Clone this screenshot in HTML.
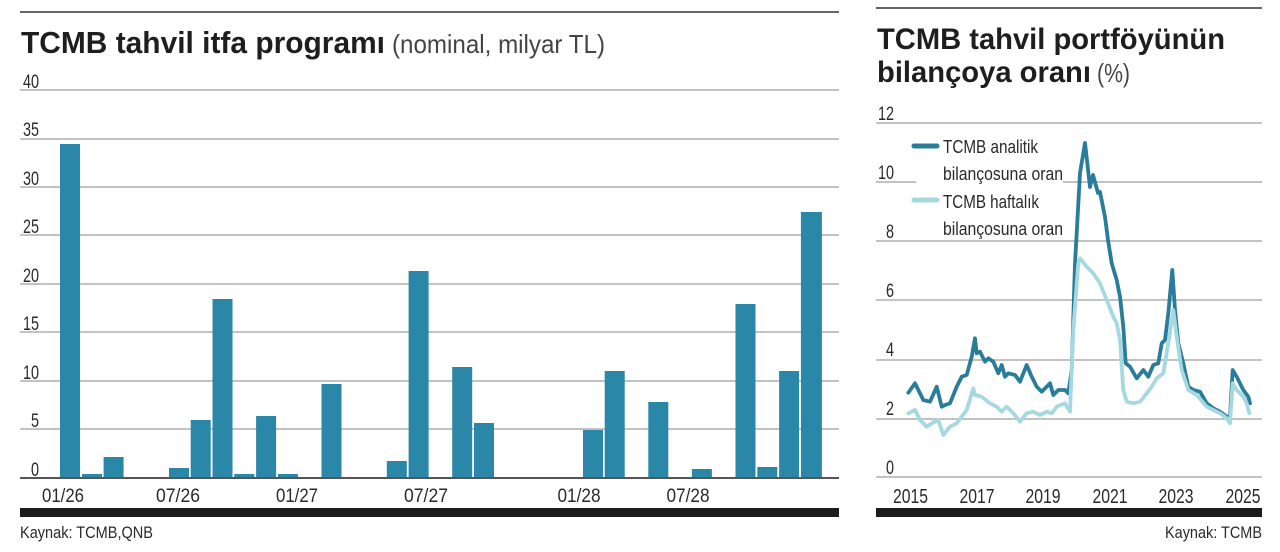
<!DOCTYPE html>
<html><head><meta charset="utf-8"><style>
html,body{margin:0;padding:0;background:#fff;}
svg{display:block;}
text{font-family:"Liberation Sans", "DejaVu Sans", sans-serif;}
</style></head><body>
<svg width="1280" height="552" viewBox="0 0 1280 552" xmlns="http://www.w3.org/2000/svg">
<rect width="1280" height="552" fill="#fff"/>
<!-- LEFT CHART -->
<line x1="20" y1="12" x2="839" y2="12" stroke="#333" stroke-width="1.5"/>
<text x="21" y="53" font-size="31" font-weight="bold" fill="#1e1e1e" textLength="364" lengthAdjust="spacingAndGlyphs">TCMB tahvil itfa programı</text>
<text x="392" y="53" font-size="26" fill="#444" textLength="213" lengthAdjust="spacingAndGlyphs">(nominal, milyar TL)</text>
<g stroke="#adadad" stroke-width="1.6">
<line x1="20" y1="90" x2="839" y2="90"/>
<line x1="20" y1="139" x2="839" y2="139"/>
<line x1="20" y1="187" x2="839" y2="187"/>
<line x1="20" y1="235" x2="839" y2="235"/>
<line x1="20" y1="284" x2="839" y2="284"/>
<line x1="20" y1="332" x2="839" y2="332"/>
<line x1="20" y1="381" x2="839" y2="381"/>
<line x1="20" y1="429" x2="839" y2="429"/>
</g>
<g font-size="19" fill="#2a2a2a" text-anchor="end">
<text x="39" y="88" textLength="16" lengthAdjust="spacingAndGlyphs">40</text>
<text x="39" y="136" textLength="16" lengthAdjust="spacingAndGlyphs">35</text>
<text x="39" y="185" textLength="16" lengthAdjust="spacingAndGlyphs">30</text>
<text x="39" y="233" textLength="16" lengthAdjust="spacingAndGlyphs">25</text>
<text x="39" y="282" textLength="16" lengthAdjust="spacingAndGlyphs">20</text>
<text x="39" y="330" textLength="16" lengthAdjust="spacingAndGlyphs">15</text>
<text x="39" y="379" textLength="16" lengthAdjust="spacingAndGlyphs">10</text>
<text x="39" y="427" textLength="8" lengthAdjust="spacingAndGlyphs">5</text>
<text x="39" y="476" textLength="8" lengthAdjust="spacingAndGlyphs">0</text>
</g>
<g fill="#2b87a7">
<rect x="60" y="144" width="20" height="334"/>
<rect x="82" y="474" width="20" height="4"/>
<rect x="103.6" y="457" width="20" height="21"/>
<rect x="169" y="468" width="20" height="10"/>
<rect x="190.7" y="420" width="20" height="58"/>
<rect x="212.5" y="299" width="20" height="179"/>
<rect x="234.3" y="474" width="20" height="4"/>
<rect x="256.1" y="416" width="20" height="62"/>
<rect x="277.9" y="474" width="20" height="4"/>
<rect x="321.5" y="384" width="20" height="94"/>
<rect x="386.8" y="461" width="20" height="17"/>
<rect x="408.6" y="271" width="20" height="207"/>
<rect x="452.2" y="367" width="20" height="111"/>
<rect x="474" y="423" width="20" height="55"/>
<rect x="583" y="430" width="20" height="48"/>
<rect x="604.7" y="371" width="20" height="107"/>
<rect x="648.3" y="402" width="20" height="76"/>
<rect x="691.9" y="469" width="20" height="9"/>
<rect x="735.5" y="304" width="20" height="174"/>
<rect x="757.3" y="467" width="20" height="11"/>
<rect x="779.1" y="371" width="20" height="107"/>
<rect x="800.9" y="212" width="21" height="266"/>
</g>
<line x1="20" y1="478" x2="839" y2="478" stroke="#555" stroke-width="2"/>
<g font-size="19" fill="#2a2a2a" text-anchor="middle">
<text x="63" y="502" textLength="42" lengthAdjust="spacingAndGlyphs">01/26</text>
<text x="178" y="502" textLength="44" lengthAdjust="spacingAndGlyphs">07/26</text>
<text x="297" y="502" textLength="42" lengthAdjust="spacingAndGlyphs">01/27</text>
<text x="426" y="502" textLength="44" lengthAdjust="spacingAndGlyphs">07/27</text>
<text x="579" y="502" textLength="43" lengthAdjust="spacingAndGlyphs">01/28</text>
<text x="688" y="502" textLength="43" lengthAdjust="spacingAndGlyphs">07/28</text>
</g>
<rect x="20" y="508" width="819" height="9" fill="#1c1c1c"/>
<text x="20" y="538" font-size="17" fill="#2a2a2a" textLength="133" lengthAdjust="spacingAndGlyphs">Kaynak: TCMB,QNB</text>

<!-- RIGHT CHART -->
<line x1="876" y1="8" x2="1262" y2="8" stroke="#333" stroke-width="1.5"/>
<text x="877" y="49" font-size="30" font-weight="bold" fill="#1e1e1e" textLength="348" lengthAdjust="spacingAndGlyphs">TCMB tahvil portföyünün</text>
<text x="877" y="82" font-size="30" font-weight="bold" fill="#1e1e1e" textLength="214" lengthAdjust="spacingAndGlyphs">bilançoya oranı</text>
<text x="1097" y="82" font-size="26" fill="#444" textLength="33" lengthAdjust="spacingAndGlyphs">(%)</text>
<g stroke="#adadad" stroke-width="1.6">
<line x1="876" y1="123" x2="1262" y2="123"/>
<line x1="876" y1="182" x2="916" y2="182"/>
<line x1="1063" y1="182" x2="1262" y2="182"/>
<line x1="876" y1="241" x2="1262" y2="241"/>
<line x1="876" y1="300" x2="1262" y2="300"/>
<line x1="876" y1="360" x2="1262" y2="360"/>
<line x1="876" y1="419" x2="1262" y2="419"/>
<line x1="876" y1="477" x2="1262" y2="477"/>
</g>
<g font-size="19" fill="#2a2a2a" text-anchor="end">
<text x="894" y="120" textLength="16" lengthAdjust="spacingAndGlyphs">12</text>
<text x="894" y="179" textLength="16" lengthAdjust="spacingAndGlyphs">10</text>
<text x="894" y="238" textLength="8" lengthAdjust="spacingAndGlyphs">8</text>
<text x="894" y="297" textLength="8" lengthAdjust="spacingAndGlyphs">6</text>
<text x="894" y="356" textLength="8" lengthAdjust="spacingAndGlyphs">4</text>
<text x="894" y="415" textLength="8" lengthAdjust="spacingAndGlyphs">2</text>
<text x="894" y="474" textLength="8" lengthAdjust="spacingAndGlyphs">0</text>
</g>
<!-- legend -->
<line x1="914" y1="146" x2="937" y2="146" stroke="#2a7d9a" stroke-width="5" stroke-linecap="round"/>
<line x1="914" y1="200" x2="937" y2="200" stroke="#a6d8e0" stroke-width="5" stroke-linecap="round"/>
<g font-size="18" fill="#2a2a2a">
<text x="943" y="153" textLength="95" lengthAdjust="spacingAndGlyphs">TCMB analitik</text>
<text x="943" y="180" textLength="120" lengthAdjust="spacingAndGlyphs">bilançosuna oran</text>
<text x="943" y="208" textLength="96" lengthAdjust="spacingAndGlyphs">TCMB haftalık</text>
<text x="943" y="235" textLength="120" lengthAdjust="spacingAndGlyphs">bilançosuna oran</text>
</g>
<!-- dark line -->
<polyline fill="none" stroke="#2a7d9a" stroke-width="3.8" stroke-linejoin="round" stroke-linecap="round" points="908.3,392.7 915,383.3 923.3,400 930,401.7 936.7,386.7 941.7,406.7 945,405 950,403.3 956.7,386.7 961.7,376.7 966.7,375 971.7,356.7 975,338.3 976.7,353.3 980,351.7 985,361.7 988.3,358.3 993.3,361.7 998.3,373.3 1001.7,365 1005,376.7 1008.3,373.3 1015,375 1020,381.7 1026.7,365 1031.7,376.7 1036.7,386.7 1041.7,391.7 1046.7,386.7 1050,383.3 1053.3,395 1058.3,390 1065,390 1068.3,393.3 1071.7,370 1075,263.3 1076.7,233 1080,173 1085,143 1090,187 1093,175 1098,193 1100,192 1105,217 1108,240 1111.7,263.3 1116.7,280 1120,296.7 1123.3,326.7 1125.7,363.3 1130,366.7 1136.7,378.3 1143.3,370 1148.3,376.7 1153.3,365 1158.3,363.3 1161.7,343.3 1165,340 1168.3,313.3 1172.3,270 1175,310 1178.3,343.3 1183.3,363.3 1188.3,386.7 1193.3,390 1200,391.7 1206.7,403.3 1213.3,408.3 1220,411.7 1226.7,416.7 1230,416.7 1232.7,370 1236.7,376.7 1240,383.3 1243.3,390 1248.3,396.7 1250,403.3"/>
<!-- light line -->
<polyline fill="none" stroke="#a6d8e0" stroke-width="3.8" stroke-linejoin="round" stroke-linecap="round" points="908.3,413.3 915,410 920,420 926.7,426.7 931.7,423.3 938.3,420 943.3,435 950,426.7 956.7,423.3 966.7,410 973.3,388.3 975,395 981.7,396.7 990,403.3 996.7,406.7 1001.7,411.7 1006.7,406.7 1013.3,413.3 1020,421.7 1026.7,413.3 1033.3,411.7 1040,415 1046.7,411.7 1051.7,413.3 1056.7,406.7 1065,403.3 1070,411.7 1073.3,330 1078.3,263.3 1080,258.3 1086.7,266.7 1093.3,273.3 1100,283.3 1106.7,300 1113.3,316.7 1116.7,323.3 1120,340 1123.3,390 1126.7,401.7 1133.3,403.3 1140,401.7 1146.7,393.3 1151.7,386.7 1156.7,378.3 1163.3,373.3 1168.3,343.3 1173.3,310 1176.7,336.7 1181.7,370 1188.3,390 1196.7,395 1206.7,406.7 1213.3,410 1220,413.3 1226.7,418.3 1230,423.3 1232.7,383.3 1236.7,390 1243.3,396.7 1246.7,403.3 1249.3,413.3"/>
<g font-size="20" fill="#2a2a2a" text-anchor="middle">
<text x="910.5" y="503" textLength="35" lengthAdjust="spacingAndGlyphs">2015</text>
<text x="977" y="503" textLength="35" lengthAdjust="spacingAndGlyphs">2017</text>
<text x="1043" y="503" textLength="35" lengthAdjust="spacingAndGlyphs">2019</text>
<text x="1110" y="503" textLength="35" lengthAdjust="spacingAndGlyphs">2021</text>
<text x="1176" y="503" textLength="35" lengthAdjust="spacingAndGlyphs">2023</text>
<text x="1243" y="503" textLength="35" lengthAdjust="spacingAndGlyphs">2025</text>
</g>
<rect x="876" y="508" width="386" height="9" fill="#1c1c1c"/>
<text x="1262" y="538" font-size="17" fill="#2a2a2a" text-anchor="end" textLength="97" lengthAdjust="spacingAndGlyphs">Kaynak: TCMB</text>
</svg>
</body></html>
